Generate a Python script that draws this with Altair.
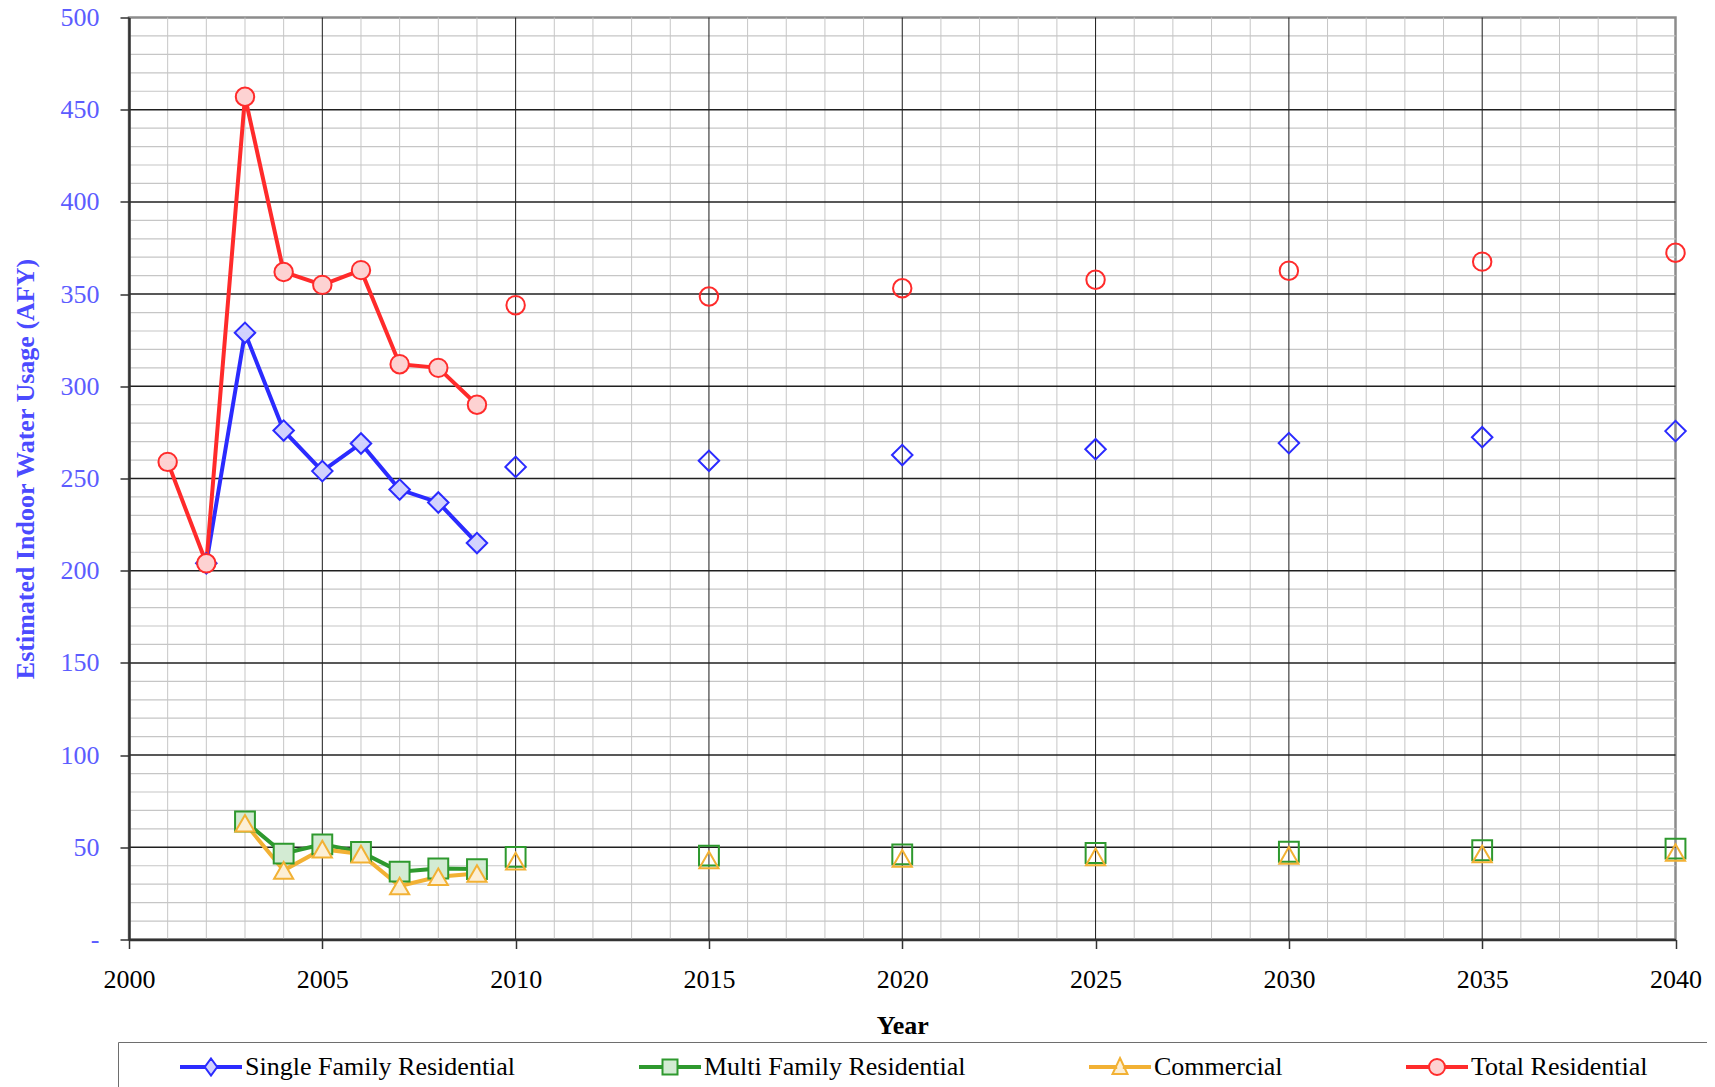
import altair as alt
import pandas as pd

# ---------------- data ----------------
SERIES = ["Single Family Residential", "Multi Family Residential", "Commercial", "Total Residential"]
LINE_COLORS = ["#2b2bff", "#2e992e", "#f2b134", "#ff2b2b"]
FILL_COLORS = ["#d2d2fd", "#d3ebd3", "#fcefd5", "#fdd2d2"]
SHAPES = ["diamond", "square", "triangle-up", "circle"]
SIZES = [420, 340, 440, 350]

HIST_YEARS = [2001, 2002, 2003, 2004, 2005, 2006, 2007, 2008, 2009]
SF_HIST = [None, 204, 329, 276, 254, 269, 244, 237, 215]
MF_HIST = [None, None, 64, 46.6, 51.6, 47.5, 36.8, 38.5, 38.2]
COM_HIST = [None, None, 63, 37.5, 49, 46.3, 29, 34, 35.8]
TOT_HIST = [259, 204, 457, 362, 355, 363, 312, 310, 290]

PROJ_YEARS = [2010, 2015, 2020, 2025, 2030, 2035, 2040]
SF_PROJ = [256.3, 259.6, 262.7, 265.9, 269.2, 272.4, 275.7]
MF_PROJ = [44.8, 45.5, 46.2, 46.9, 47.6, 48.4, 49.3]
COM_PROJ = [42.5, 43.2, 44.0, 44.8, 45.6, 46.4, 47.2]
TOT_PROJ = [344, 348.7, 353.2, 357.8, 362.7, 367.6, 372.4]

X_TICKS = [2000, 2005, 2010, 2015, 2020, 2025, 2030, 2035, 2040]
Y_TICKS = [0, 50, 100, 150, 200, 250, 300, 350, 400, 450, 500]


def rows(years, vals, series):
    return [{"year": y, "value": v, "series": series} for y, v in zip(years, vals) if v is not None]


hist = pd.DataFrame(
    rows(HIST_YEARS, SF_HIST, SERIES[0]) + rows(HIST_YEARS, MF_HIST, SERIES[1])
    + rows(HIST_YEARS, COM_HIST, SERIES[2]) + rows(HIST_YEARS, TOT_HIST, SERIES[3])
)
proj = pd.DataFrame(
    rows(PROJ_YEARS, SF_PROJ, SERIES[0]) + rows(PROJ_YEARS, MF_PROJ, SERIES[1])
    + rows(PROJ_YEARS, COM_PROJ, SERIES[2]) + rows(PROJ_YEARS, TOT_PROJ, SERIES[3])
)

X_MINOR = [y for y in range(2001, 2040) if y % 5]
X_MAJOR = [y for y in range(2005, 2040, 5)]
Y_MINOR = [v for v in range(10, 500, 10) if v % 50]
Y_MAJOR = [v for v in range(50, 500, 50)]

FONT = "Liberation Serif"

xs = alt.Scale(domain=[2000, 2040], nice=False, zero=False)
ys = alt.Scale(domain=[0, 500], nice=False)

x_axis = alt.Axis(
    values=X_TICKS, format="d", title="Year", titleFont=FONT, titleFontSize=26, titleFontWeight="bold",
    titleColor="black", titleY=72.5, labelFont=FONT, labelFontSize=26, labelColor="black",
    labelPadding=18, tickSize=9, tickColor="#333333", tickWidth=1.5, domainColor="#333333",
    domainWidth=2.5, grid=False, labelFlush=False, labelOverlap=False, zindex=1,
)
y_axis = alt.Axis(
    values=Y_TICKS, title="Estimated Indoor Water Usage (AFY)", titleFont=FONT, titleFontSize=26,
    titleFontWeight="bold", titleColor="#4b4bff", titleX=-91, titleY=451,
    labelExpr="datum.value == 0 ? '-\u00a0\u00a0\u00a0\u00a0' : datum.label",
    labelFont=FONT, labelFontSize=26, labelColor="#5c5cff", labelPadding=21, tickSize=9,
    tickColor="#333333", tickWidth=1.5, domainColor="#333333", domainWidth=2.5, grid=False,
    labelFlush=False, labelOverlap=False, zindex=1,
)


def X(field):
    return alt.X(f"{field}:Q", scale=xs, axis=x_axis, title="Year")


def Y(field):
    return alt.Y(f"{field}:Q", scale=ys, axis=y_axis, title="Estimated Indoor Water Usage (AFY)")


def vrules(vals, color, width):
    return alt.Chart(pd.DataFrame({"year": vals})).mark_rule(color=color, strokeWidth=width).encode(
        x=X("year"))


def hrules(vals, color, width):
    return alt.Chart(pd.DataFrame({"value": vals})).mark_rule(color=color, strokeWidth=width).encode(
        y=Y("value"))


# ---------- legend symbols: line + marker as custom paths ----------
def legend_path(marker, half, tail=None):
    p = f"M-3,-0.1L{-half},-0.1L{-half},0.1L-3,0.1Z"
    p += f"M{half},-0.1L3,-0.1L3,0.1L{half},0.1Z"
    p += marker
    if tail is not None:
        p += f"M{tail},0"
    return p


LEG_SHAPES = [
    legend_path("M0,-0.85L0.62,0L0,0.85L-0.62,0Z", 0.62),
    legend_path("M-0.75,-0.75L0.75,-0.75L0.75,0.75L-0.75,0.75Z", 0.75),
    legend_path("M0,-0.9L0.75,0.7L-0.75,0.7Z", 0.38),
    legend_path("M-0.8,0A0.8,0.8,0,1,1,0.8,0A0.8,0.8,0,1,1,-0.8,0Z", 0.8, tail=26.2),
]

legend = alt.Legend(
    title=None, orient="none", legendX=-11, legendY=1024.5, direction="horizontal", columns=4,
    padding=12, strokeColor="#6e6e6e", fillColor="white",
    labelFont=FONT, labelFontSize=26, labelColor="black", labelLimit=600,
    symbolOffset=68, labelOffset=21,
    symbolSize=400, symbolStrokeWidth=2, symbolOpacity=1, columnPadding=73,
)

lines = alt.Chart(hist).mark_line(strokeWidth=4).encode(
    x=X("year"), y=Y("value"),
    color=alt.Color("series:N", scale=alt.Scale(domain=SERIES, range=LINE_COLORS), legend=None),
)

stroke_scale = alt.Scale(domain=SERIES, range=LINE_COLORS)
fill_scale = alt.Scale(domain=SERIES, range=FILL_COLORS)
shape_scale = alt.Scale(domain=SERIES, range=SHAPES)
size_scale = alt.Scale(domain=SERIES, range=SIZES)

pts_hist = alt.Chart(hist).mark_point(opacity=1, strokeWidth=2).encode(
    x=X("year"), y=Y("value"),
    shape=alt.Shape("series:N", scale=shape_scale, legend=None),
    size=alt.Size("series:N", scale=size_scale, legend=None),
    stroke=alt.Stroke("series:N", scale=stroke_scale, legend=None),
    fill=alt.Fill("series:N", scale=fill_scale, legend=None),
)

pts_proj = alt.Chart(proj).mark_point(opacity=1, strokeWidth=2, filled=False).encode(
    x=X("year"), y=Y("value"),
    shape=alt.Shape("series:N", scale=shape_scale, legend=None),
    size=alt.Size("series:N", scale=size_scale, legend=None),
    stroke=alt.Stroke("series:N", scale=stroke_scale, legend=None),
)

# legend-only layer (no rows drawn): line+marker symbols
legend_layer = alt.Chart(pd.DataFrame({"series": SERIES})).transform_filter("false").mark_point(
    opacity=1, strokeWidth=2).encode(
    shape=alt.Shape("series:N", scale=alt.Scale(domain=SERIES, range=LEG_SHAPES), legend=legend),
    stroke=alt.Stroke("series:N", scale=stroke_scale, legend=legend),
    fill=alt.Fill("series:N", scale=fill_scale, legend=legend),
)

chart = alt.layer(
    vrules(X_MINOR, "#c6c6c6", 1),
    hrules(Y_MINOR, "#c6c6c6", 1.2),
    vrules(X_MAJOR, "#1a1a1a", 1),
    hrules(Y_MAJOR, "#202020", 1.5),
    lines, pts_hist, pts_proj, legend_layer,
).resolve_scale(shape="independent", fill="independent", stroke="independent").properties(
    width=1546.5, height=922,
    autosize=alt.AutoSizeParams(type="none"),
    padding={"left": 121, "top": 9.5, "right": 31, "bottom": 147},
).configure(font=FONT).configure_view(stroke="#8c8c8c", strokeWidth=2.5)

chart.save("out.html", embed_options={"renderer": "svg", "actions": False})
